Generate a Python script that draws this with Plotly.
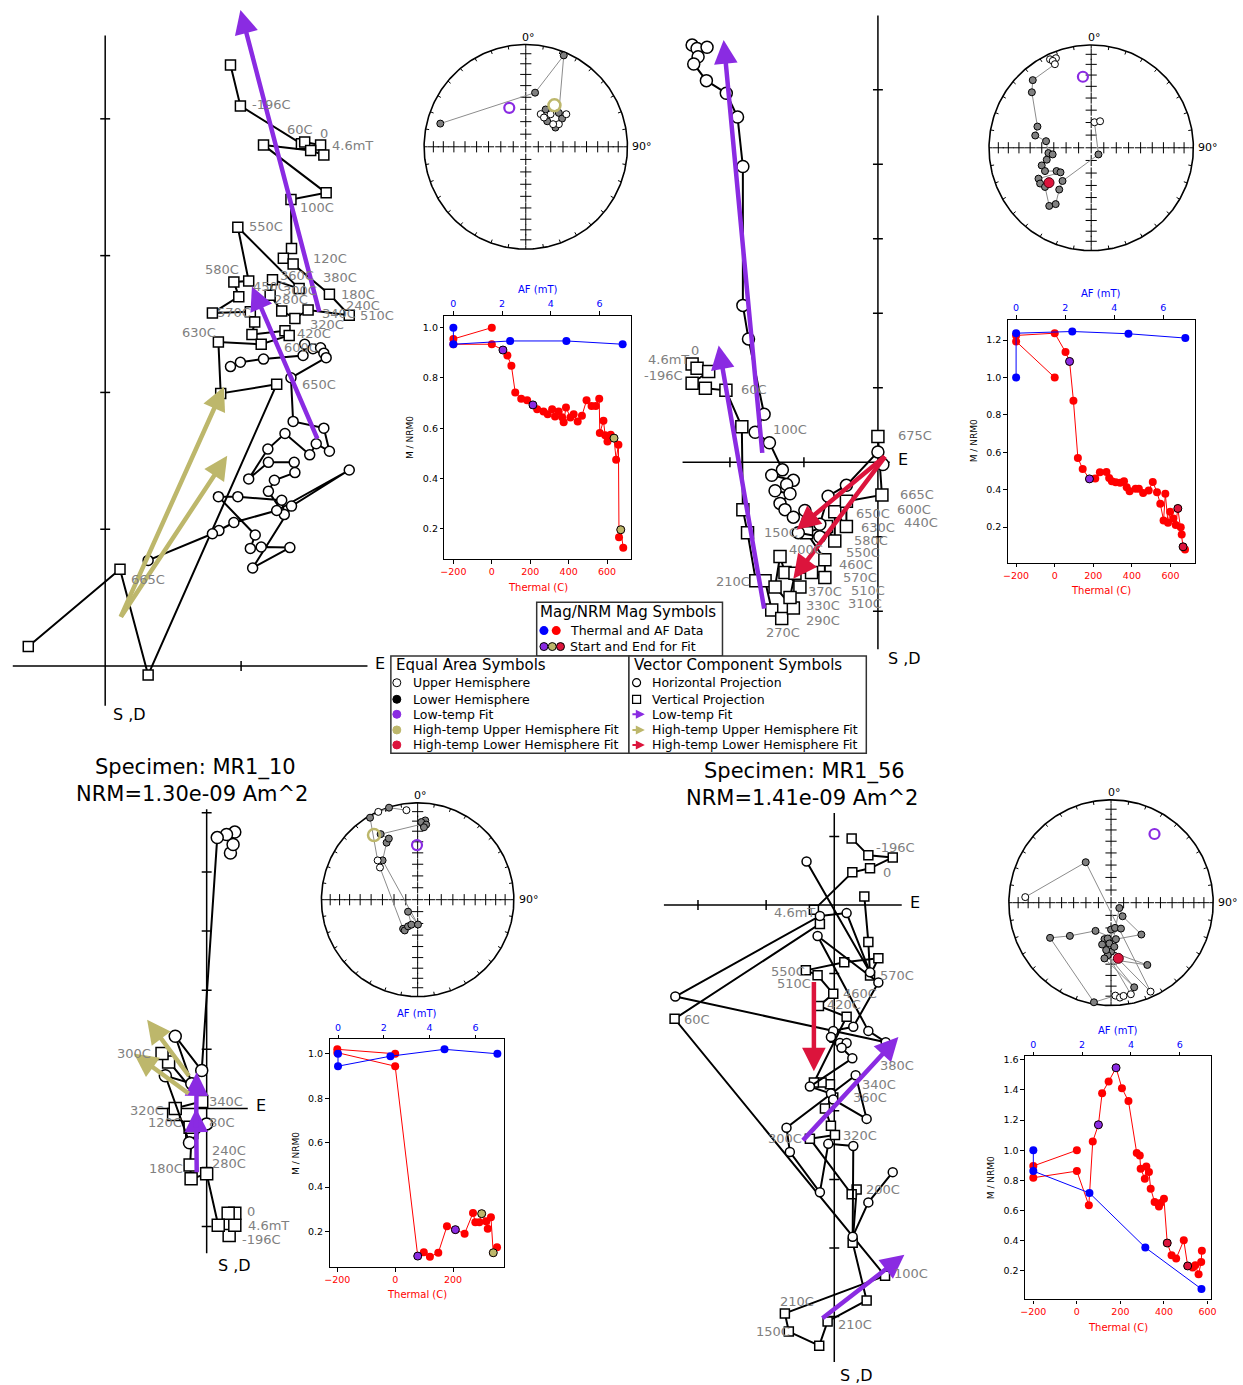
import numpy as np
import plotly.graph_objects as go

W, H = 1243, 1385
FONT = "DejaVu Sans"
PURPLE = "#8A2BE2"
OLIVE = "#BDB76B"
CRIMSON = "#DC143C"
LABEL_GREY = "#808080"

# ------------------------------------------------------------------
# Zijderveld data (one unit = one tick interval on the plot axes)
# ------------------------------------------------------------------
# specimen shown top-left
zA_hor_x = [0.922, 0.995, 1.165, 1.456, 1.468, 1.529, 1.585, 1.609, 1.626, 1.367, 1.383, 1.609, 1.650, 1.553, 1.505,
            1.323, 1.197, 1.056, 1.201, 1.391, 1.396, 1.245, 1.201, 1.318, 1.299, 0.976, 0.833, 1.104, 1.068, 1.148,
            1.359, 1.085, 1.371, 1.796, 1.262, 0.947, 0.837, 0.789, 0.316]
zA_hor_y = [2.189, 2.221, 2.244, 2.270, 2.352, 2.319, 2.326, 2.287, 2.254, 2.107, 1.788, 1.739, 1.570, 1.625, 1.544,
            1.700, 1.586, 1.368, 1.489, 1.489, 1.414, 1.358, 1.277, 1.107, 1.212, 1.238, 1.238, 0.958, 0.860, 0.870,
            0.866, 0.717, 1.169, 1.433, 1.137, 1.049, 0.990, 0.967, 0.772]
zA_ver_x = [0.922, 0.995, 1.444, 1.468, 1.585, 1.609, 1.512, 1.165, 1.626, 1.367, 1.371, 1.311, 1.383, 1.650, 1.796,
            1.493, 1.396, 1.299, 1.214, 1.231, 1.427, 0.976, 1.056, 0.947, 0.983, 0.789, 1.068, 1.100, 1.080, 1.323,
            1.354, 1.148, 0.833, 0.850, 1.262, 0.316, 0.109, -0.566]
zA_ver_y = [4.394, 4.094, 3.818, 3.831, 3.808, 3.736, 3.769, 3.808, 3.459, 3.410, 3.052, 2.980, 2.938, 2.717, 2.564,
            2.603, 2.541, 2.596, 2.710, 2.824, 2.759, 3.208, 2.814, 2.808, 2.700, 2.580, 2.590, 2.515, 2.423, 2.450,
            2.417, 2.352, 2.368, 1.993, 2.059, -0.065, 0.707, 0.143]
zA_low_fits = [(1.578, 2.580, 0.995, 4.795), (1.566, 1.651, 1.080, 2.775)]
zA_high_fits = [(0.109, 0.349, 0.874, 2.042), (0.109, 0.349, 0.898, 1.537)]
zA_steps = [("-196C", "s", 1), ("60C", "s", 2), ("0", "s", 4), ("4.6mT", "s", 4), ("100C", "s", 9),
            ("550C", "s", 21), ("120C", "s", 12), ("580C", "s", 23), ("360C", "s", 19), ("380C", "s", 13),
            ("450C", "s", 22), ("300C", "s", 20), ("180C", "s", 13), ("280C", "s", 18), ("240C", "s", 14),
            ("570C", "s", 25), ("340C", "s", 15), ("510C", "s", 14), ("320C", "s", 16), ("630C", "s", 32),
            ("420C", "s", 30), ("600C", "s", 29), ("650C", "s", 34), ("665C", "s", 36)]

# specimen shown top-right
zB_hor_x = [-2.511, -2.444, -2.309, -2.430, -2.489, -2.318, -2.049, -1.897, -1.825, -1.825, -1.749, -1.538, -1.659,
            -1.466, -1.291, -1.435, -1.143, -1.233, -1.390, -1.188, -1.323, -1.256, -1.143, -0.987, -1.076, -0.785,
            -0.785, -0.673, -0.426, 0.000, 0.067]
zB_hor_y = [5.601, 5.556, 5.573, 5.444, 5.348, 5.124, 4.955, 4.635, 3.972, 2.107, 1.657, 0.646, 0.404, 0.264, -0.101,
            -0.174, -0.242, -0.298, -0.382, -0.421, -0.551, -0.635, -0.736, -0.646, -0.944, -1.000, -0.831, -0.455,
            -0.309, 0.140, -0.028]
zB_ver_x = [-2.511, -2.444, -2.287, -2.511, -2.332, -2.054, -1.839, -1.825, -1.762, -1.650, -1.525, -1.435, -1.300,
            -1.143, -1.390, -1.323, -1.256, -1.054, -1.188, -1.121, -0.897, -0.717, -0.717, -0.964, -0.695, -0.583,
            -0.583, -0.426, -0.426, 0.054, 0.000]
zB_ver_y = [1.320, 1.264, 1.219, 1.062, 0.994, 0.966, 0.478, -0.635, -0.944, -1.590, -1.590, -1.983, -2.096, -1.955,
            -1.674, -1.264, -1.478, -1.674, -1.815, -1.489, -1.478, -1.545, -1.309, -0.944, -0.860, -1.056, -0.663,
            -0.860, -0.522, -0.438, 0.348]
zB_low_fits = [(-1.561, 0.107, -2.085, 5.669), (-1.534, -1.983, -2.152, 1.567)]
zB_high_fits = [(0.112, 0.096, -1.099, -0.904), (0.112, 0.096, -1.143, -1.562)]
zB_steps = [("0", "s", 0), ("4.6mT", "s", 0), ("-196C", "s", 0), ("60C", "s", 5), ("100C", "s", 6),
            ("150C", "s", 8), ("210C", "s", 9), ("400C", "s", 15), ("370C", "s", 17), ("330C", "s", 13),
            ("290C", "s", 12), ("270C", "s", 12), ("310C", "s", 21), ("510C", "s", 21), ("570C", "s", 21),
            ("460C", "s", 22), ("550C", "s", 22), ("580C", "s", 25), ("630C", "s", 27), ("650C", "s", 26),
            ("665C", "s", 29), ("600C", "s", 29), ("440C", "s", 29), ("675C", "s", 30)]

# MR1_10
zC_hor_x = [0.405, 0.450, 0.479, 0.338, 0.180, -0.084, -0.535, -0.253, -0.704, -0.293, 0.000]
zC_hor_y = [4.320, 4.465, 4.674, 4.634, 4.581, 0.640, 1.221, 0.419, 0.552, -0.581, -0.262]
zC_ver_x = [0.383, 0.479, 0.479, 0.366, 0.197, 0.000, -0.265, -0.282, -0.253, -0.282, -0.563, -0.535, -0.084,
            -0.648, -0.760]
zC_ver_y = [-2.151, -1.977, -1.773, -1.773, -1.977, -1.105, -1.192, -0.959, -0.407, -0.320, -0.105, 0.000, 0.116,
            0.785, 0.930]
zC_low_fits = [(-0.169, -1.105, -0.180, 0.000), (-0.180, -0.349, -0.169, 0.610)]
zC_high_fits = [(-0.282, 0.523, -1.014, 1.500), (-0.282, 0.233, -1.239, 0.930)]
zC_steps = [("0", "s", 2), ("4.6mT", "s", 1), ("-196C", "s", 0), ("240C", "s", 5), ("280C", "s", 5),
            ("180C", "s", 7), ("120C", "s", 10), ("320C", "s", 11), ("340C", "s", 12), ("80C", "s", 12),
            ("300C", "s", 14)]

# MR1_56
zD_hor_x = [-0.407, 0.525, 0.181, -0.211, -2.333, 0.755, 0.500, -0.245, 0.647, 0.279, -0.015, -0.049, 0.083, 0.181,
            0.108, 0.265, -0.358, -0.049, -0.015, 0.475, 0.314, -0.701, -0.652, -0.211, -0.088, 0.279, 0.270, 0.500,
            0.858]
zD_hor_y = [0.635, -0.982, -0.118, -0.159, -1.335, -2.000, -1.835, -0.453, -1.129, -1.776, -1.835, -1.924, -2.012,
            -2.012, -2.082, -2.235, -2.647, -2.747, -2.835, -3.118, -2.482, -3.247, -3.600, -4.188, -3.482, -3.512,
            -4.835, -4.335, -3.894]
zD_ver_x = [0.255, 0.500, 0.858, 0.525, 0.265, -0.299, -0.211, -2.343, 0.745, -0.725, -0.667, -0.221, -0.098, 0.475,
            0.270, 0.328, 0.255, -0.358, 0.010, -0.049, -0.137, -0.015, -0.064, -0.186, -0.299, 0.181, -0.225,
            -0.015, -0.245, -0.417, 0.147, 0.647, 0.525, 0.500, 0.441]
zD_ver_y = [0.971, 0.724, 0.694, 0.535, 0.476, -0.071, -0.276, -1.659, -5.406, -5.953, -6.218, -6.424, -6.071, -5.765,
            -4.924, -4.147, -4.218, -3.406, -3.353, -3.218, -2.965, -2.806, -2.612, -2.588, -2.588, -1.629, -1.471,
            -1.294, -1.024, -0.953, -0.835, -0.776, -1.029, -0.541, 0.124]
zD_low_fits = [(-0.480, -3.453, 0.941, -1.924), (-0.196, -6.041, 1.029, -5.100)]
zD_high_fits = [(-0.299, -1.100, -0.299, -2.424)]
zD_steps = [("-196C", "s", 1), ("0", "s", 3), ("4.6mT", "s", 5), ("550C", "s", 29), ("510C", "s", 28),
            ("570C", "s", 32), ("460C", "s", 27), ("420C", "s", 26), ("60C", "s", 7), ("380C", "c", 5),
            ("340C", "s", 22), ("360C", "s", 21), ("300C", "s", 17), ("320C", "s", 18), ("200C", "s", 15),
            ("100C", "s", 8), ("210C", "s", 9), ("150C", "s", 10), ("210C", "s", 12)]

# ------------------------------------------------------------------
# Equal-area data (declination, inclination in degrees)
# ------------------------------------------------------------------
eqA_dec = [285.1, 9.8, 22.7, 44.5, 51.4, 52.3, 55.8, 57.2, 50.6, 40.2, 37.5, 28.2, 24.7, 32.0]
eqA_inc = [14.0, 45.4, 3.6, 51.7, -47.7, 52.8, -57.7, 61.6, -61.5, 63.3, -57.1, 56.0, -61.2, -62.4]
eqA_fits = [(336.9, -56.0, "low"), (34.8, -49.1, "high_up")]

eqB_dec = [334.9, 338.4, 336.0, 336.4, 319.0, 312.9, 291.4, 282.3, 278.3, 263.0, 260.3, 255.1, 250.5, 243.4, 236.3,
           231.5, 239.8, 235.2, 229.9, 216.0, 212.4, 217.6, 221.0, 132.3, 7.4, 18.6]
eqB_inc = [-5.6, -7.0, -8.3, -12.3, 13.9, 21.8, 42.9, 43.3, 53.2, 55.3, 58.6, 52.9, 47.4, 48.1, 56.5, 58.5, 40.1,
           39.0, 40.6, 30.8, 35.4, 47.5, 54.8, 82.2, -69.6, -67.8]
eqB_fits = [(353.3, -31.1, "low"), (230.6, 45.6, "high_down")]

eqC_dec = [352.8, 342.6, 335.7, 329.7, 314.3, 310.3, 206.7, 202.9, 199.9, 194.2, 218.9, 179.2, 318.1, 331.3, 334.6,
           330.4, 4.0, 5.5, 2.7, 6.5, 5.0]
eqC_inc = [-7.6, 0.5, -0.6, 2.2, -41.5, -47.4, 62.5, 61.8, 66.1, 68.3, 77.1, 69.1, 44.6, 33.3, 30.8, 23.2, 22.6,
           18.9, 20.9, 23.0, 25.9]
eqC_fits = [(359.3, -43.0, "low"), (325.8, -20.4, "high_up")]

eqD_dec = [273.7, 327.8, 155.9, 180.0, 122.5, 139.4, 136.2, 172.3, 209.0, 231.3, 240.2, 189.8, 177.3, 174.6, 172.3,
           167.7, 183.6, 164.6, 186.8, 149.6, 185.9, 180.0, 171.0, 158.9, 190.3, 185.3, 192.1, 182.3, 175.7]
eqD_inc = [-17.0, 51.6, -5.9, 50.6, 82.2, 75.9, 54.7, 60.7, 64.4, 47.2, 31.8, 2.0, -10.5, -8.1, -9.4, -9.8, 47.6,
           15.8, 44.6, 30.5, 51.8, 68.7, 69.8, 68.0, 60.5, 61.4, 55.8, 57.4, 54.6]
eqD_fits = [(32.5, -21.9, "low"), (172.5, 44.6, "high_down")]

# ------------------------------------------------------------------
# M / NRM0 demagnetisation data
# ------------------------------------------------------------------
nA_temp = [0, -200, -200, 0, 58, 81, 102, 122, 153, 184, 214, 236, 269, 291, 314, 329, 348, 366, 374, 386, 409, 426,
           447, 469, 493, 519, 541, 559, 562, 581, 590, 602, 619, 636, 647, 659, 662, 671, 684]
nA_mt = [1.0, 0.955, 0.934, 0.934, 0.911, 0.889, 0.849, 0.742, 0.717, 0.711, 0.693, 0.676, 0.667, 0.656, 0.676, 0.647,
         0.667, 0.644, 0.624, 0.683, 0.643, 0.656, 0.627, 0.650, 0.711, 0.689, 0.689, 0.717, 0.581, 0.630, 0.572,
         0.548, 0.574, 0.561, 0.475, 0.535, 0.167, 0.197, 0.125]
nA_af = [0, 0, 2.33, 4.64, 6.95]
nA_maf = [1.0, 0.934, 0.947, 0.947, 0.934]
nA_fit_idx = [(4, PURPLE), (10, PURPLE), (33, OLIVE), (37, OLIVE)]

nB_temp = [0, -200, -200, 0, 56, 77, 97, 120, 145, 180, 210, 234, 268, 282, 296, 316, 339, 359, 373, 388, 419, 436,
           458, 487, 508, 530, 547, 564, 573, 587, 598, 615, 627, 638, 653, 658, 665, 675]
nB_mt = [1.0, 1.193, 1.225, 1.237, 1.136, 1.086, 0.876, 0.570, 0.511, 0.458, 0.460, 0.494, 0.495, 0.463, 0.446, 0.440,
         0.437, 0.446, 0.413, 0.392, 0.406, 0.406, 0.383, 0.396, 0.442, 0.387, 0.325, 0.236, 0.378, 0.223, 0.282,
         0.246, 0.211, 0.300, 0.200, 0.161, 0.095, 0.081]
nB_af = [0, 0, 2.29, 4.58, 6.9]
nB_maf = [1.0, 1.237, 1.246, 1.234, 1.211]
nB_fit_idx = [(5, PURPLE), (9, PURPLE), (33, CRIMSON), (36, CRIMSON)]

nC_temp = [0, -200, -200, 0, 78, 99, 120, 149, 179, 208, 240, 269, 277, 291, 299, 314, 320, 331, 339, 352]
nC_mt = [1.0, 1.020, 1.005, 0.944, 0.089, 0.106, 0.086, 0.104, 0.223, 0.208, 0.190, 0.283, 0.241, 0.241, 0.280,
         0.246, 0.212, 0.264, 0.104, 0.129]
nC_af = [0, 0, 2.29, 4.65, 6.96]
nC_maf = [1.0, 0.944, 0.989, 1.020, 1.0]
nC_fit_idx = [(4, PURPLE), (9, PURPLE), (14, OLIVE), (18, OLIVE)]

nD_temp = [0, -200, -200, 0, 55, 73, 99, 116, 146, 180, 207, 237, 275, 289, 293, 312, 319, 331, 339, 357, 377, 384,
           400, 415, 435, 456, 491, 509, 532, 544, 559, 571, 574]
nD_mt = [1.0, 0.896, 0.818, 0.862, 0.635, 1.059, 1.169, 1.379, 1.456, 1.547, 1.412, 1.326, 0.982, 0.966, 0.878, 0.812,
         0.893, 0.856, 0.745, 0.657, 0.628, 0.650, 0.679, 0.385, 0.304, 0.282, 0.403, 0.233, 0.222, 0.237, 0.178,
         0.260, 0.333]
nD_af = [0, 0, 2.3, 4.59, 6.89]
nD_maf = [1.0, 0.862, 0.717, 0.355, 0.080]
nD_fit_idx = [(6, PURPLE), (9, PURPLE), (23, CRIMSON), (27, CRIMSON)]

# ------------------------------------------------------------------
# figure plumbing
# ------------------------------------------------------------------
fig = go.Figure()
layout = dict(width=W, height=H, autosize=False, margin=dict(l=0, r=0, t=0, b=0, pad=0),
              paper_bgcolor="white", plot_bgcolor="rgba(0,0,0,0)", showlegend=False)
annotations = []
shapes = []
counter = {"x": 0, "y": 0}


def new_axis(kind, props):
    counter[kind] += 1
    n = counter[kind]
    sfx = "" if n == 1 else str(n)
    layout[kind + "axis" + sfx] = props
    return kind + sfx


def axis_key(name):
    return name[0] + "axis" + name[1:]


def dom_x(l, r):
    return [l / W, r / W]


def dom_y(t, b):
    return [1 - b / H, 1 - t / H]


def hidden_axes(box, xr, yr):
    l, t, r, b = box
    xa = new_axis("x", dict(domain=dom_x(l, r), range=xr, visible=False, fixedrange=True))
    ya = new_axis("y", dict(domain=dom_y(t, b), range=yr, visible=False, fixedrange=True))
    layout[axis_key(xa)]["anchor"] = ya
    layout[axis_key(ya)]["anchor"] = xa
    return xa, ya


# page-pixel axes for legends and titles
PX, PY = hidden_axes((0, 0, W, H), [0, W], [H, 0])


def page_text(x, y, text, size, color="black", xanchor="left", angle=0):
    annotations.append(dict(x=x, y=y, xref=PX, yref=PY, text=text, showarrow=False, xanchor=xanchor,
                            yanchor="middle", textangle=angle, font=dict(family=FONT, size=size, color=color)))


# ------------------------------------------------------------------
# Zijderveld panel
# ------------------------------------------------------------------
def zij_panel(g, hx, hy, vx, vy, low_fits, high_fits, high_col, steps, offsets):
    ox, oy = g["origin"]
    u = g["unit"]
    l, t, r, b = g["box"]
    xa, ya = hidden_axes(g["box"], [(l - ox) / u, (r - ox) / u], [(oy - b) / u, (oy - t) / u])
    (u0, u1), (v0, v1) = g["ext"]
    k = 5.0 / u
    ax_x = [u0, u1, None, 0, 0, None]
    ax_y = [0, 0, None, v0, v1, None]
    for tv in g["xticks"]:
        ax_x += [tv, tv, None]
        ax_y += [-k, k, None]
    for tv in g["yticks"]:
        ax_x += [-k, k, None]
        ax_y += [tv, tv, None]
    fig.add_trace(go.Scatter(x=ax_x, y=ax_y, mode="lines", line=dict(color="black", width=1.5),
                             xaxis=xa, yaxis=ya, hoverinfo="skip", cliponaxis=False))
    ms = g["msize"]
    fig.add_trace(go.Scatter(x=vx, y=vy, mode="lines+markers", line=dict(color="black", width=2),
                             marker=dict(symbol="square", size=ms, color="white",
                                         line=dict(color="black", width=1.5)),
                             xaxis=xa, yaxis=ya, cliponaxis=False))
    fig.add_trace(go.Scatter(x=hx, y=hy, mode="lines+markers", line=dict(color="black", width=2),
                             marker=dict(symbol="circle", size=ms, color="white",
                                         line=dict(color="black", width=1.5)),
                             xaxis=xa, yaxis=ya, cliponaxis=False))
    for fits, col in ((low_fits, PURPLE), (high_fits, high_col)):
        for x0, y0, x1, y1 in fits:
            annotations.append(dict(x=x1, y=y1, ax=x0, ay=y0, xref=xa, yref=ya, axref=xa, ayref=ya, text="",
                                    showarrow=True, arrowhead=2, arrowsize=1.05, arrowwidth=4.5, arrowcolor=col))
    for (text, series, idx), (dx, dy) in zip(steps, offsets):
        px_, py_ = (vx, vy) if series == "s" else (hx, hy)
        annotations.append(dict(x=px_[idx], y=py_[idx], xref=xa, yref=ya, text=text, showarrow=False,
                                xanchor="left", yanchor="middle", xshift=dx, yshift=-dy,
                                font=dict(family=FONT, size=13, color=LABEL_GREY)))
    page_text(ox + u1 * u + 6, oy - 3, "E", 16)
    page_text(ox + g["sd"][0], oy - v0 * u + g["sd"][1], "S ,D", 16)


# label offsets (pixels) for the step annotations
offA = [(10, -1), (-16, -14), (-3, -12), (9, 0), (7, 8), (9, -1), (18, -6), (-31, -12), (6, -4), (-8, -17), (2, 5),
        (-18, 2), (10, 0), (2, 4), (-5, -10), (3, -1), (12, 4), (9, 0), (13, 6), (-38, -10), (6, -2), (-3, 17),
        (23, 0), (9, 10)]
offB = [(-3, -14), (-46, -5), (-50, 11), (13, -1), (29, 3), (14, 0), (-42, 1), (7, -7), (6, 4), (11, -2), (22, 2),
        (-18, 14), (21, 26), (24, 13), (16, 0), (12, 5), (19, -7), (17, -1), (13, 1), (19, 2), (16, 0), (13, 15),
        (20, 28), (18, -1)]
offC = [(10, -2), (11, 0), (11, 4), (3, -23), (3, -10), (-43, 3), (-28, 8), (-47, 2), (5, 0), (5, 21), (-47, 0)]
offD = [(6, -8), (11, 4), (-42, 3), (-37, 1), (-43, 8), (8, 0), (8, 0), (6, -1), (7, 1), (-8, 23), (30, 0), (18, 0),
        (-44, 0), (6, 0), (7, 0), (7, -2), (-7, -12), (-35, 0), (8, 3)]

geomA = dict(origin=(101, 665), unit=137.0, box=(0, 0, 385, 720), ext=((-0.68, 1.93), (-0.29, 4.61)),
             xticks=[1], yticks=[1, 2, 3, 4], msize=10, sd=(6, 9))
geomB = dict(origin=(880, 461), unit=74.6, box=(640, 0, 960, 680), ext=((-2.64, 0.16), (-2.51, 6.0)),
             xticks=[-2, -1], yticks=[-2, -1, 1, 2, 3, 4, 5], msize=12, sd=(8, 9))
geomC = dict(origin=(203.3, 1108), unit=59.2, box=(60, 800, 300, 1290), ext=((-0.85, 0.70), (-2.45, 5.06)),
             xticks=[], yticks=[-2, -1, 1, 2, 3, 4, 5], msize=12, sd=(9, 12))
geomD = dict(origin=(836, 904.3), unit=68.7, box=(650, 790, 935, 1385), ext=((-2.5, 0.99), (-6.66, 1.34)),
             xticks=[-2, -1], yticks=[1, -1, -2, -3, -4, -5, -6], msize=9, sd=(4, 14))

zij_panel(geomA, zA_hor_x, zA_hor_y, zA_ver_x, zA_ver_y, zA_low_fits, zA_high_fits, OLIVE, zA_steps, offA)
zij_panel(geomB, zB_hor_x, zB_hor_y, zB_ver_x, zB_ver_y, zB_low_fits, zB_high_fits, CRIMSON, zB_steps, offB)
zij_panel(geomC, zC_hor_x, zC_hor_y, zC_ver_x, zC_ver_y, zC_low_fits, zC_high_fits, OLIVE, zC_steps, offC)
zij_panel(geomD, zD_hor_x, zD_hor_y, zD_ver_x, zD_ver_y, zD_low_fits, zD_high_fits, CRIMSON, zD_steps, offD)


# ------------------------------------------------------------------
# equal-area (Lambert) stereonet
# ------------------------------------------------------------------
def project(dec, inc):
    d = np.radians(np.asarray(dec, dtype=float))
    i = np.radians(np.abs(np.asarray(inc, dtype=float)))
    r = np.sqrt(1.0 - np.sin(i))
    return r * np.sin(d), r * np.cos(d)


def eqarea_panel(center, R, dec, inc, fits):
    cx, cy = center
    pad = 1.2
    xa, ya = hidden_axes((cx - pad * R, cy - pad * R, cx + pad * R, cy + pad * R), [-pad, pad], [-pad, pad])
    th = np.linspace(0, 2 * np.pi, 361)
    fig.add_trace(go.Scatter(x=np.sin(th), y=np.cos(th), mode="lines", line=dict(color="black", width=1.6),
                             xaxis=xa, yaxis=ya, hoverinfo="skip", cliponaxis=False))
    tx, ty = [], []
    for dd in range(0, 360, 10):
        a = np.radians(dd)
        tx += [0.965 * np.sin(a), np.sin(a), None]
        ty += [0.965 * np.cos(a), np.cos(a), None]
    fig.add_trace(go.Scatter(x=tx, y=ty, mode="lines", line=dict(color="black", width=1),
                             xaxis=xa, yaxis=ya, hoverinfo="skip", cliponaxis=False))
    rr = list(np.sqrt(1 - np.sin(np.radians(np.arange(10, 90, 10)))))
    crx = [0.0] + rr + [-v for v in rr] + [0.0] * (2 * len(rr))
    cry = [0.0] + [0.0] * (2 * len(rr)) + rr + [-v for v in rr]
    fig.add_trace(go.Scatter(x=crx, y=cry, mode="markers",
                             marker=dict(symbol="cross-thin", size=8, color="black",
                                         line=dict(width=1, color="black")),
                             xaxis=xa, yaxis=ya, hoverinfo="skip", cliponaxis=False))
    x, y = project(dec, inc)
    fig.add_trace(go.Scatter(x=x, y=y, mode="lines", line=dict(color="#8c8c8c", width=1),
                             xaxis=xa, yaxis=ya, hoverinfo="skip", cliponaxis=False))
    inc_arr = np.asarray(inc)
    low = inc_arr >= 0
    fig.add_trace(go.Scatter(x=x[low], y=y[low], mode="markers",
                             marker=dict(size=7, color="#808080", line=dict(color="black", width=1)),
                             xaxis=xa, yaxis=ya, cliponaxis=False))
    fig.add_trace(go.Scatter(x=x[~low], y=y[~low], mode="markers",
                             marker=dict(size=7, color="white", line=dict(color="black", width=1)),
                             xaxis=xa, yaxis=ya, cliponaxis=False))
    for fd, fi, kind in fits:
        fx, fy = project([fd], [fi])
        if kind == "low":
            mk = dict(size=10, color="rgba(0,0,0,0)", line=dict(color=PURPLE, width=2.2))
        elif kind == "high_up":
            mk = dict(size=12, color="rgba(0,0,0,0)", line=dict(color=OLIVE, width=2.5))
        else:
            mk = dict(size=10, color=CRIMSON, line=dict(color="#4a0010", width=1))
        fig.add_trace(go.Scatter(x=fx, y=fy, mode="markers", marker=mk, xaxis=xa, yaxis=ya, cliponaxis=False))
    page_text(cx + 3, cy - R - 7, "0°", 11, xanchor="center")
    page_text(cx + R + 3, cy, "90°", 11)


eqarea_panel((525, 145), 102.5, eqA_dec, eqA_inc, eqA_fits)
eqarea_panel((1095, 146), 103, eqB_dec, eqB_inc, eqB_fits)
eqarea_panel((416, 899), 97, eqC_dec, eqC_inc, eqC_fits)
eqarea_panel((1115, 902), 103, eqD_dec, eqD_inc, eqD_fits)


# ------------------------------------------------------------------
# M / NRM0 panels (thermal on bottom axis, AF on top axis)
# ------------------------------------------------------------------
def nrm_panel(box, t_rng, af_rng, m_rng, m_ticks, temp, mt, af, maf, fit_idx):
    l, t, r, b = box
    tick_common = dict(ticks="outside", ticklen=3.5, tickwidth=1, tickcolor="black", showgrid=False,
                       zeroline=False, fixedrange=True)
    xb = new_axis("x", dict(domain=dom_x(l, r), range=t_rng, tickvals=[-200, 0, 200, 400, 600],
                            tickfont=dict(family=FONT, size=9.5, color="red"), showline=True, linecolor="black",
                            linewidth=1.2, mirror=True, **tick_common))
    ya = new_axis("y", dict(domain=dom_y(t, b), range=m_rng, tickvals=m_ticks,
                            ticktext=["%.1f" % v for v in m_ticks],
                            tickfont=dict(family=FONT, size=9.5, color="black"), showline=True, linecolor="black",
                            linewidth=1.2, mirror=True, **tick_common))
    layout[axis_key(xb)]["anchor"] = ya
    layout[axis_key(ya)]["anchor"] = xb
    xt = new_axis("x", dict(overlaying=xb, side="top", anchor=ya, range=af_rng, tickvals=[0, 2, 4, 6],
                            tickfont=dict(family=FONT, size=9.5, color="blue"), showline=False, **tick_common))
    fig.add_trace(go.Scatter(x=temp, y=mt, mode="lines+markers", line=dict(color="red", width=1),
                             marker=dict(size=8, color="red"), xaxis=xb, yaxis=ya, cliponaxis=False))
    fig.add_trace(go.Scatter(x=af, y=maf, mode="lines+markers", line=dict(color="blue", width=1),
                             marker=dict(size=8, color="blue"), xaxis=xt, yaxis=ya, cliponaxis=False))
    fig.add_trace(go.Scatter(x=[temp[i] for i, _ in fit_idx], y=[mt[i] for i, _ in fit_idx], mode="markers",
                             marker=dict(size=8, color=[c for _, c in fit_idx], line=dict(color="black", width=1)),
                             xaxis=xb, yaxis=ya, cliponaxis=False))
    cx = (l + r) / 2
    page_text(cx, t - 26, "AF (mT)", 10, color="blue", xanchor="center")
    page_text(cx, b + 28, "Thermal (C)", 10, color="red", xanchor="center")
    page_text(l - 34, (t + b) / 2, "M / NRM0", 9, xanchor="center", angle=-90)


nrm_panel((443, 314, 631, 558), [-246.5, 724], [-0.367, 7.29], [0.080, 1.048], [0.2, 0.4, 0.6, 0.8, 1.0],
          nA_temp, nA_mt, nA_af, nA_maf, nA_fit_idx)
nrm_panel((1011, 318, 1199.3, 561.7), [-242.7, 725], [-0.336, 7.28], [0.009, 1.31],
          [0.2, 0.4, 0.6, 0.8, 1.0, 1.2], nB_temp, nB_mt, nB_af, nB_maf, nB_fit_idx)
nrm_panel((327.3, 1038.6, 503.3, 1266.8), [-226.4, 377], [-0.364, 7.26], [0.040, 1.066],
          [0.2, 0.4, 0.6, 0.8, 1.0], nC_temp, nC_mt, nC_af, nC_maf, nC_fit_idx)
nrm_panel((1028.3, 1056, 1216, 1299.3), [-238, 617], [-0.34, 7.29], [0.011, 1.622],
          [0.2, 0.4, 0.6, 0.8, 1.0, 1.2, 1.4, 1.6], nD_temp, nD_mt, nD_af, nD_maf, nD_fit_idx)

# ------------------------------------------------------------------
# specimen headings
# ------------------------------------------------------------------
page_text(192, 767, "Specimen: MR1_10", 21, xanchor="center")
page_text(189, 793, "NRM=1.30e-09 Am^2", 21, xanchor="center")
page_text(806, 771, "Specimen: MR1_56", 21, xanchor="center")
page_text(803, 797, "NRM=1.41e-09 Am^2", 21, xanchor="center")

# ------------------------------------------------------------------
# symbol keys
# ------------------------------------------------------------------
def key_box(x0, y0, x1, y1):
    shapes.append(dict(type="rect", xref=PX, yref=PY, x0=x0, y0=y0, x1=x1, y1=y1,
                       line=dict(color="#333333", width=1.5), fillcolor="white", layer="below"))


key_box(536, 601, 723.3, 655)
key_box(389, 655, 629, 752.3)
key_box(629, 655, 868.3, 752.3)

page_text(537.7, 611, "Mag/NRM Mag Symbols", 15)
page_text(567.7, 629.5, "Thermal and AF Data", 12.5)
page_text(567.7, 645.5, "Start and End for Fit", 12.5)
fig.add_trace(go.Scatter(x=[543.3, 555.7], y=[629.5, 629.5], mode="markers",
                         marker=dict(size=9, color=["blue", "red"]), xaxis=PX, yaxis=PY, cliponaxis=False))
fig.add_trace(go.Scatter(x=[543.3, 551.7, 560], y=[645.5, 645.5, 645.5], mode="markers",
                         marker=dict(size=8, color=[PURPLE, OLIVE, CRIMSON], line=dict(color="black", width=1)),
                         xaxis=PX, yaxis=PY, cliponaxis=False))

rows_y = [681.7, 698.3, 713.3, 729, 744]
page_text(391.7, 664, "Equal Area Symbols", 15)
for yy, txt in zip(rows_y, ["Upper Hemisphere", "Lower Hemisphere", "Low-temp Fit",
                            "High-temp Upper Hemisphere Fit", "High-temp Lower Hemisphere Fit"]):
    page_text(409, yy, txt, 12.5)
fig.add_trace(go.Scatter(x=[395] * 5, y=rows_y, mode="markers",
                         marker=dict(size=8, color=["white", "black", PURPLE, OLIVE, CRIMSON],
                                     line=dict(color=["black", "black", PURPLE, OLIVE, CRIMSON], width=1)),
                         xaxis=PX, yaxis=PY, cliponaxis=False))

page_text(631.7, 664, "Vector Component Symbols", 15)
for yy, txt in zip(rows_y, ["Horizontal Projection", "Vertical Projection", "Low-temp Fit",
                            "High-temp Upper Hemisphere Fit", "High-temp Lower Hemisphere Fit"]):
    page_text(650, yy, txt, 12.5)
fig.add_trace(go.Scatter(x=[636.7], y=[rows_y[0]], mode="markers",
                         marker=dict(size=8, color="white", line=dict(color="black", width=1.2)),
                         xaxis=PX, yaxis=PY, cliponaxis=False))
fig.add_trace(go.Scatter(x=[636.7], y=[rows_y[1]], mode="markers",
                         marker=dict(symbol="square", size=8, color="white", line=dict(color="black", width=1.2)),
                         xaxis=PX, yaxis=PY, cliponaxis=False))
for yy, col in zip(rows_y[2:], [PURPLE, OLIVE, CRIMSON]):
    annotations.append(dict(x=645, y=yy, ax=631, ay=yy, xref=PX, yref=PY, axref=PX, ayref=PY, text="",
                            showarrow=True, arrowhead=2, arrowsize=0.9, arrowwidth=2, arrowcolor=col))

layout["annotations"] = annotations
layout["shapes"] = shapes
fig.update_layout(layout)
fig.write_html("out.html")
